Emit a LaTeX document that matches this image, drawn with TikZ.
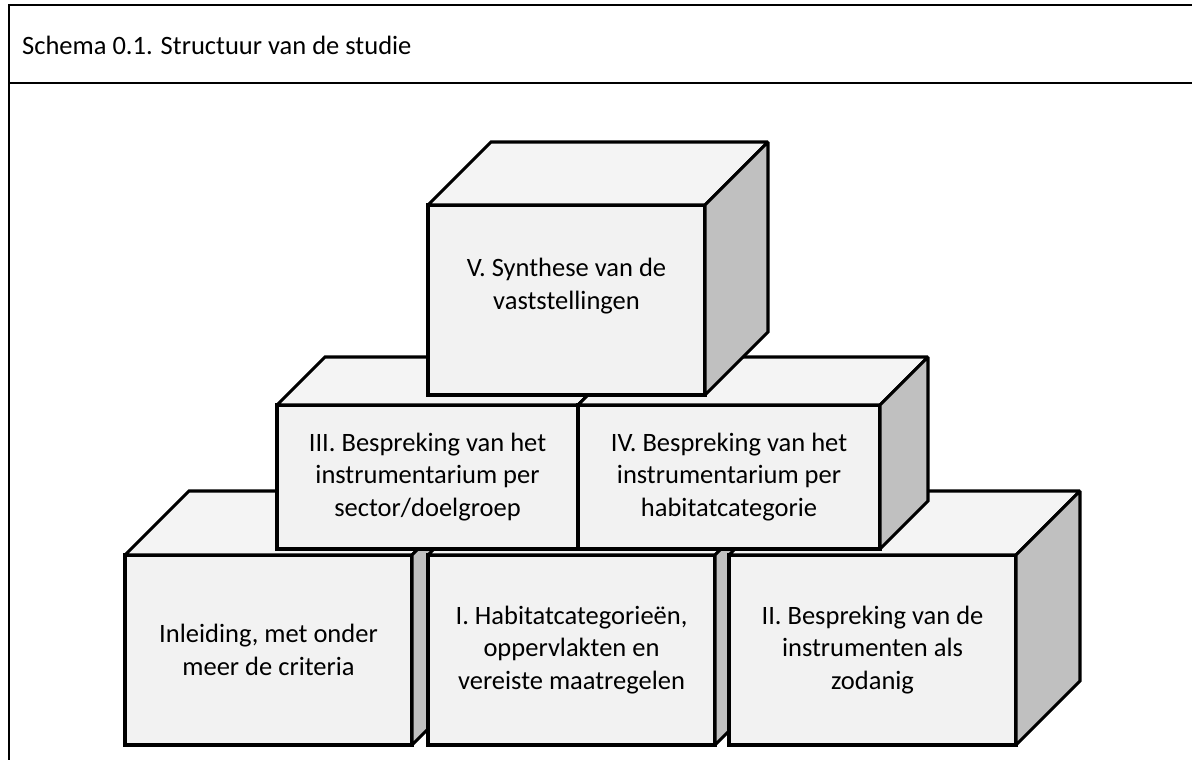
\documentclass[tikz,border=0pt]{standalone}
\usepackage{fontspec}
\setmainfont{Carlito}
\usepackage{tikz}

\definecolor{voorgrijs}{HTML}{F2F2F2}
\definecolor{bovengrijs}{HTML}{F4F4F4}
\definecolor{zijgrijs}{HTML}{C0C0C0}

% kubus: naam, middelpunt voorkant, breedte, hoogte, diepte, tekst
\newcommand{\kubus}[6]{%
\node[voorkant, minimum width=#3, minimum height=#4] (#1) at #2 {#6};
\draw[bovenkant] (#1.north west) -- ++(#5,-#5) -- ([shift={(#5,-#5)}]#1.north east) -- (#1.north east) -- cycle;
\draw[zijkant] (#1.north east) -- ++(#5,-#5) -- ([shift={(#5,-#5)}]#1.south east) -- (#1.south east) -- cycle;
}

\begin{document}
\begin{tikzpicture}[x=1pt,y=-1pt,
  rand/.style={draw=black, line width=3.1pt, miter limit=1.5},
  voorkant/.style={rand, fill=voorgrijs, outer sep=0pt, inner sep=0pt,
    align=center, font=\fontsize{26.5}{32.5}\selectfont},
  bovenkant/.style={rand, fill=bovengrijs},
  zijkant/.style={rand, fill=zijgrijs},
  kader/.style={draw=black, line width=2.4pt}]

\useasboundingbox (0,0) rectangle (1192,760);

% kader met titel
\draw[kader] (9,760) -- (9,5) -- (1192,5);
\draw[kader] (9,83) -- (1192,83);
\node[anchor=base west, inner sep=0pt, font=\fontsize{26.5}{32.5}\selectfont] (titel) at (22,55) {Schema 0.1. Structuur van de studie};

% onderste rij
\kubus{inleiding}{(268.5,650)}{287}{190}{64}{Inleiding, met onder\\meer de criteria}
\kubus{een}{(571.5,650)}{287}{190}{64}{I. Habitatcategorieën,\\oppervlakten en\\vereiste maatregelen}
\kubus{twee}{(872.5,650)}{287}{190}{64}{II. Bespreking van de\\instrumenten als\\zodanig}

% middelste rij
\kubus{drie}{(427.5,477)}{301}{144}{48}{III. Bespreking van het\\instrumentarium per\\sector/doelgroep}
\kubus{vier}{(729,477)}{302}{144}{48}{IV. Bespreking van het\\instrumentarium per\\habitatcategorie}

% bovenste kubus
\kubus{vijf}{(566.5,300)}{277}{190}{63}{V. Synthese van de\\vaststellingen\\ ~}

\end{tikzpicture}
\end{document}
